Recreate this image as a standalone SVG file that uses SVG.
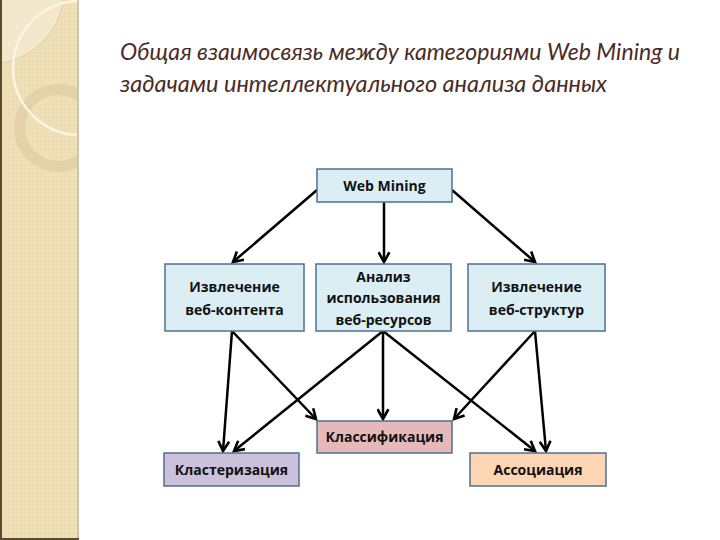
<svg xmlns="http://www.w3.org/2000/svg" width="720" height="540" viewBox="0 0 720 540">
<defs>
<style>
.box{stroke:#4f6f93;stroke-width:1.5}
.blue{fill:#dbeef4}
.lbl{font-family:"Open Sans","Liberation Sans",sans-serif;font-weight:700;font-size:14px;fill:#111;text-anchor:middle}
.title{font-family:Lato,"Open Sans",sans-serif;font-style:italic;font-size:23px;fill:#4a2c24}
.conn line{stroke:#000;stroke-width:2.5;marker-end:url(#ah)}
</style>
<marker id="ah" viewBox="0 0 12 12" refX="10" refY="6" markerWidth="13" markerHeight="13" markerUnits="userSpaceOnUse" orient="auto">
<path d="M1,1 L10,6 L1,11" fill="none" stroke="#000" stroke-width="2.4"/>
</marker>
<pattern id="dots" width="4" height="4" patternUnits="userSpaceOnUse">
<rect width="4" height="4" fill="#efe0b7"/>
<rect width="2" height="2" fill="#ecdbb0"/>
</pattern>
<clipPath id="strip"><rect x="0" y="0" width="78" height="540"/></clipPath>
</defs>
<rect width="720" height="540" fill="#fff"/>
<g id="decor" clip-path="url(#strip)">
<rect x="0" y="0" width="78" height="540" fill="url(#dots)"/>
<circle cx="-10" cy="-10" r="74" fill="#f3e8cc" stroke="#d8c79e" stroke-width="0.8"/>
<circle cx="58" cy="128" r="38.5" fill="none" stroke="#e2d1a9" stroke-width="11"/>
<circle cx="80" cy="68" r="67" fill="none" stroke="#fbf5e3" stroke-width="2.5"/>
</g>
<rect x="0" y="0" width="2" height="540" fill="#5a4a30"/>
<rect x="77" y="0" width="2" height="540" fill="#cfc5ad"/>
<rect x="0" y="538" width="79" height="2" fill="#5a4a30"/>
<g id="title">
<text class="title" x="120" y="60" textLength="560" lengthAdjust="spacingAndGlyphs">Общая взаимосвязь между категориями Web Mining и</text>
<text class="title" x="120" y="92" textLength="487" lengthAdjust="spacingAndGlyphs">задачами интеллектуального анализа данных</text>
</g>
<g class="conn" id="connectors">
<line x1="317" y1="190" x2="233" y2="262"/>
<line x1="384" y1="202" x2="384" y2="262"/>
<line x1="452" y1="190" x2="535" y2="262"/>
<line x1="232" y1="331" x2="223" y2="451"/>
<line x1="232" y1="331" x2="316" y2="419"/>
<line x1="383" y1="331" x2="383" y2="419"/>
<line x1="383" y1="331" x2="234" y2="451"/>
<line x1="383" y1="331" x2="535" y2="451"/>
<line x1="535" y1="331" x2="454" y2="419"/>
<line x1="535" y1="331" x2="546" y2="451"/>
</g>
<g id="web-mining">
<rect class="box blue" x="317" y="169" width="135" height="33"/>
<text class="lbl" x="384.5" y="191">Web Mining</text>
</g>
<g id="content">
<rect class="box blue" x="165" y="264" width="139" height="67"/>
<text class="lbl" x="234.5" y="292">Извлечение</text>
<text class="lbl" x="234.5" y="315">веб-контента</text>
</g>
<g id="usage">
<rect class="box blue" x="316" y="264" width="135" height="67"/>
<text class="lbl" x="383.5" y="282">Анализ</text>
<text class="lbl" x="383.5" y="303">использования</text>
<text class="lbl" x="383.5" y="325">веб-ресурсов</text>
</g>
<g id="structure">
<rect class="box blue" x="468" y="264" width="137" height="67"/>
<text class="lbl" x="536.5" y="292">Извлечение</text>
<text class="lbl" x="536.5" y="315">веб-структур</text>
</g>
<g id="classification">
<rect class="box" x="317" y="421" width="135" height="32" fill="#e6b9b8"/>
<text class="lbl" x="384.5" y="442">Классификация</text>
</g>
<g id="clustering">
<rect class="box" x="164" y="453" width="135" height="33" fill="#ccc1da"/>
<text class="lbl" x="231.5" y="475">Кластеризация</text>
</g>
<g id="association">
<rect class="box" x="470" y="453" width="136" height="33" fill="#fcd5b5"/>
<text class="lbl" x="538" y="475">Ассоциация</text>
</g>
</svg>
